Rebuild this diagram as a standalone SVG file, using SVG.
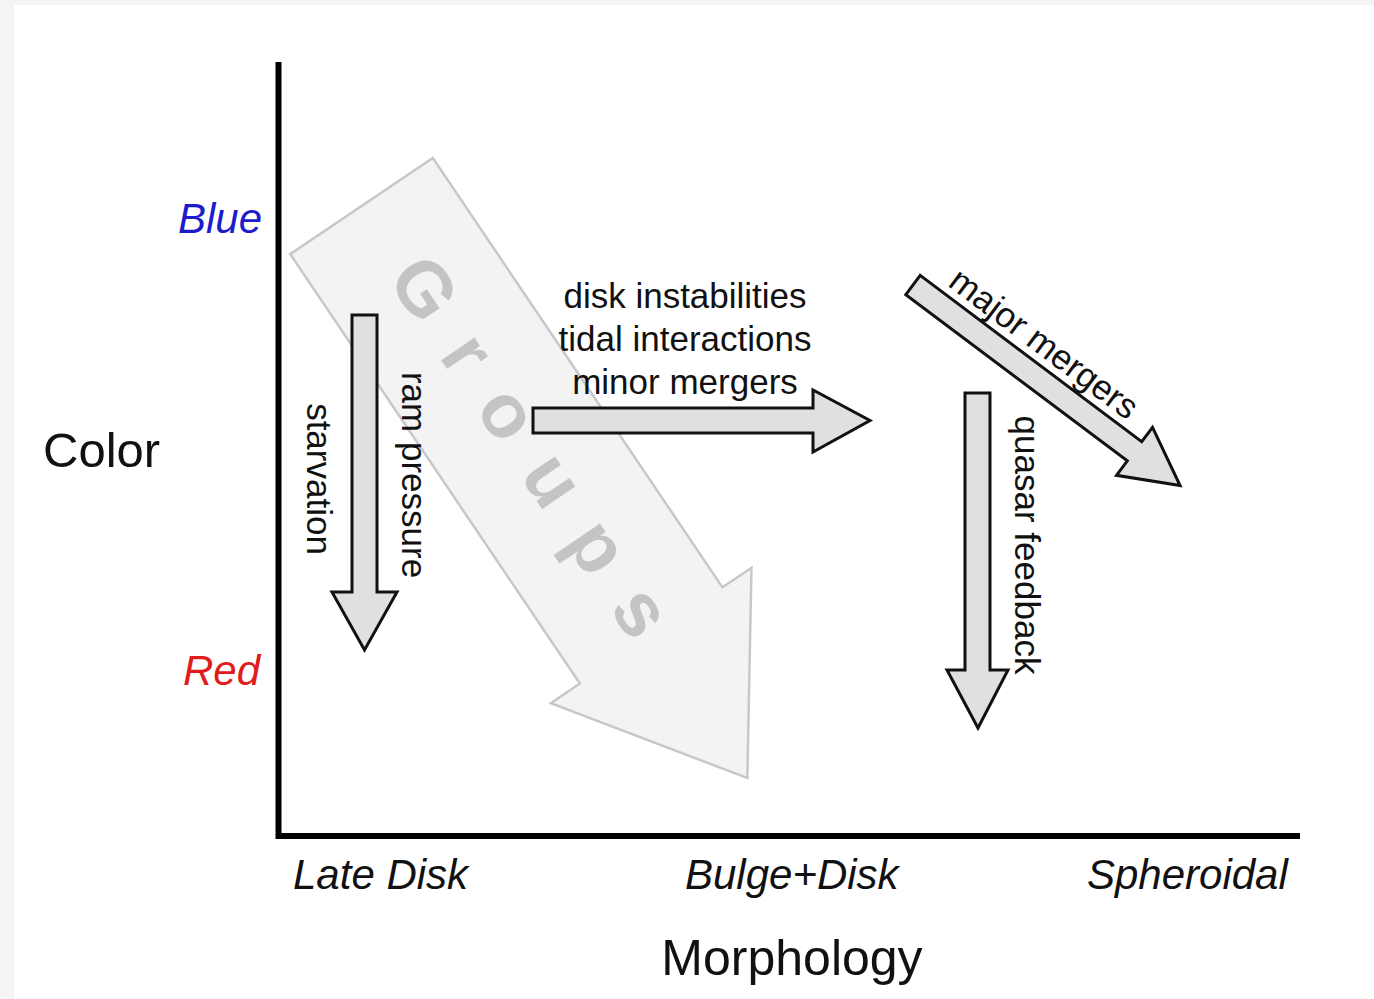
<svg xmlns="http://www.w3.org/2000/svg" width="1374" height="999" viewBox="0 0 1374 999">
  <defs>
    <style>
      .lbl { font-family: "Liberation Sans", Arial, Helvetica, sans-serif; fill: #111; }
      .proc { font-size: 35px; }
      .axis-title { font-size: 49px; }
      .tick { font-size: 42px; font-style: italic; }
      .arrow { fill: #e0e0e0; stroke: #111; stroke-width: 3; stroke-linejoin: miter; }
      .axis { stroke: #000; stroke-width: 6; fill: none; }
    </style>
  </defs>

  <!-- page -->
  <rect x="0" y="0" width="1374" height="999" fill="#f4f4f4"/>
  <rect x="14" y="5" width="1360" height="994" fill="#ffffff"/>

  <!-- faint background arrow for the group environment -->
  <g id="groups" transform="translate(361.5,206) rotate(56)">
    <polygon points="0,-86 518,-86 518,-121 690,0 518,121 518,86 0,86" fill="#f3f3f3" stroke="#c8c8c8" stroke-width="2.5"/>
    <text x="74" y="20" font-family="Liberation Sans, Arial, sans-serif" font-weight="bold" font-size="76" letter-spacing="34" fill="#c4c4c4">Groups</text>
  </g>

  <!-- axes -->
  <g id="axes">
    <polyline class="axis" points="278.5,62 278.5,836 1300,836"/>
  </g>

  <!-- axis labels -->
  <g id="color-axis">
    <text class="lbl axis-title" x="43" y="467">Color</text>
    <text class="lbl tick" x="262" y="233" text-anchor="end" style="fill:#1c1ccc">Blue</text>
    <text class="lbl tick" x="260" y="685" text-anchor="end" style="fill:#e01c1c">Red</text>
  </g>
  <g id="morphology-axis">
    <text class="lbl axis-title" x="792" y="975" text-anchor="middle" style="font-size:50px">Morphology</text>
    <text class="lbl tick" x="293" y="889">Late Disk</text>
    <text class="lbl tick" x="685" y="889">Bulge+Disk</text>
    <text class="lbl tick" x="1087" y="889">Spheroidal</text>
  </g>

  <!-- process arrows -->
  <g id="connectors">
    <g id="starvation-arrow">
      <polygon class="arrow" points="352,315 377,315 377,592 397,592 364.5,650 332,592 352,592"/>
      <text class="lbl proc" transform="translate(307,479) rotate(90)" text-anchor="middle">starvation</text>
      <text class="lbl proc" transform="translate(402,475) rotate(90)" text-anchor="middle">ram pressure</text>
    </g>

    <g id="secular-arrow">
      <polygon class="arrow" points="533,408 813,408 813,390 870,420.5 813,452 813,433 533,433"/>
      <text class="lbl proc" x="685" y="308" text-anchor="middle">disk instabilities</text>
      <text class="lbl proc" x="685" y="351" text-anchor="middle">tidal interactions</text>
      <text class="lbl proc" x="685" y="394" text-anchor="middle">minor mergers</text>
    </g>

    <g id="merger-arrow" transform="translate(913,285) rotate(36.9)">
      <polygon class="arrow" points="0,-12 277,-12 277,-30 334,0 277,30 277,12 0,12"/>
      <text class="lbl proc" x="140" y="-20" text-anchor="middle">major mergers</text>
    </g>

    <g id="quasar-arrow">
      <polygon class="arrow" points="965,393 990,393 990,670 1008,670 978,728 947,670 965,670"/>
      <text class="lbl proc" transform="translate(1015,545) rotate(90)" text-anchor="middle">quasar feedback</text>
    </g>
  </g>
</svg>
